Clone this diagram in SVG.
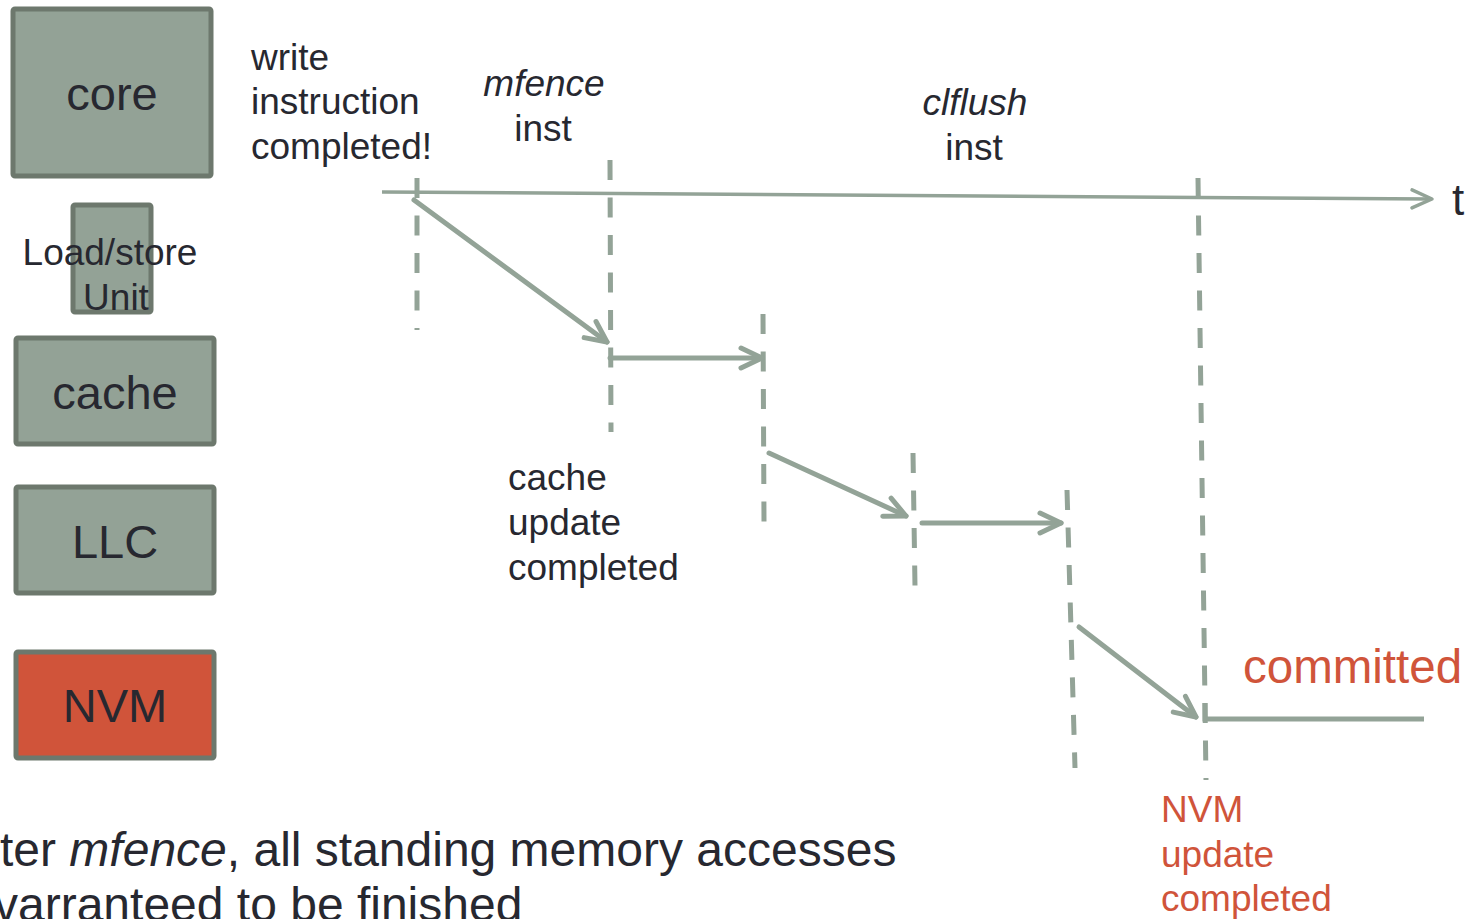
<svg xmlns="http://www.w3.org/2000/svg" width="1469" height="919" viewBox="0 0 1469 919">
  <style>
    .box { fill: #93a296; stroke: #6d786d; stroke-width: 5; }
    .nvm { fill: #d0543a; stroke: #6d786d; stroke-width: 5; }
    .lbl { font-family: "Liberation Sans", Arial, sans-serif; fill: #272830; }
    .big { font-size: 47px; text-anchor: middle; }
    .txt { font-size: 37px; }
    .red { fill: #d0543a; }
    .it { font-style: italic; }
    .guide { stroke: #93a397; stroke-width: 5; fill: none; stroke-dasharray: 20 17.5; }
    .flow { stroke: #93a397; stroke-width: 5; fill: none; stroke-linecap: round; }
    .axis { stroke: #93a397; stroke-width: 3.5; fill: none; }
  </style>
  <defs>
    <marker id="head" markerUnits="userSpaceOnUse" markerWidth="40" markerHeight="40" refX="0" refY="0" viewBox="-30 -20 40 40" orient="auto" overflow="visible">
      <path d="M-21,-10 L0,0 L-21,10" fill="none" stroke="#93a397" stroke-width="5" stroke-linecap="round" stroke-linejoin="round"/>
    </marker>
    <marker id="headThin" markerUnits="userSpaceOnUse" markerWidth="40" markerHeight="40" refX="0" refY="0" viewBox="-30 -20 40 40" orient="auto" overflow="visible">
      <path d="M-20,-9 L0,0 L-20,9" fill="none" stroke="#93a397" stroke-width="3.5" stroke-linecap="round" stroke-linejoin="round"/>
    </marker>
  </defs>

  <rect width="1469" height="919" fill="#ffffff"/>

  <!-- memory hierarchy -->
  <g id="core">
    <rect class="box" x="13" y="9" width="198" height="167" rx="2"/>
    <text class="lbl big" x="112" y="110">core</text>
  </g>
  <g id="load-store-unit">
    <rect class="box" x="73" y="205" width="78" height="107" rx="2"/>
    <text class="lbl txt" x="110" y="265" text-anchor="middle">Load/store</text>
    <text class="lbl txt" x="116" y="310" text-anchor="middle">Unit</text>
  </g>
  <g id="cache">
    <rect class="box" x="16" y="338" width="198" height="106" rx="2"/>
    <text class="lbl big" x="115" y="409">cache</text>
  </g>
  <g id="llc">
    <rect class="box" x="16" y="487" width="198" height="106" rx="2"/>
    <text class="lbl big" x="115" y="558">LLC</text>
  </g>
  <g id="nvm">
    <rect class="nvm" x="16" y="652" width="198" height="106" rx="2"/>
    <text class="lbl big" x="115" y="722">NVM</text>
  </g>

  <!-- time axis and event guides -->
  <g id="connectors">
    <line class="axis" x1="382" y1="192" x2="1432" y2="199" marker-end="url(#headThin)"/>

    <line class="guide" x1="417" y1="178" x2="417" y2="330"/>
    <line class="guide" x1="610" y1="160" x2="611" y2="432"/>
    <line class="guide" x1="763" y1="314" x2="764" y2="522"/>
    <line class="guide" x1="913" y1="453" x2="915" y2="587"/>
    <line class="guide" x1="1067" y1="490" x2="1075" y2="768"/>
    <line class="guide" x1="1198" y1="178" x2="1206" y2="780"/>

    <line class="flow" x1="414" y1="200" x2="607" y2="342" marker-end="url(#head)"/>
    <line class="flow" x1="610" y1="358" x2="762" y2="358" marker-end="url(#head)"/>
    <line class="flow" x1="769" y1="453" x2="906" y2="516" marker-end="url(#head)"/>
    <line class="flow" x1="922" y1="523" x2="1061" y2="523" marker-end="url(#head)"/>
    <line class="flow" x1="1079" y1="627" x2="1196" y2="717" marker-end="url(#head)"/>
    <path d="M1205,703 L1205,719 L1424,719" stroke="#93a397" stroke-width="5" fill="none"/>
  </g>

  <!-- annotations -->
  <g id="write-label" class="lbl txt">
    <text x="251" y="70">write</text>
    <text x="251" y="114">instruction</text>
    <text x="251" y="159">completed!</text>
  </g>
  <g id="mfence-label" class="lbl txt" text-anchor="middle">
    <text class="it" x="544" y="96">mfence</text>
    <text x="543" y="141">inst</text>
  </g>
  <g id="clflush-label" class="lbl txt" text-anchor="middle">
    <text class="it" x="975" y="115">clflush</text>
    <text x="974" y="160">inst</text>
  </g>
  <g id="cache-update-label" class="lbl txt">
    <text x="508" y="490">cache</text>
    <text x="508" y="535">update</text>
    <text x="508" y="580">completed</text>
  </g>
  <g id="nvm-update-label" class="lbl txt red">
    <text x="1161" y="822">NVM</text>
    <text x="1161" y="867">update</text>
    <text x="1161" y="911">completed</text>
  </g>
  <text id="committed" class="lbl red" x="1243" y="683" font-size="47.5">committed</text>
  <text id="t-axis" class="lbl" x="1452" y="215" font-size="44">t</text>

  <g id="note" class="lbl" font-size="48">
    <text x="0" y="866">ter <tspan class="it">mfence</tspan>, all standing memory accesses</text>
    <text x="-6" y="921">varranteed to be finished</text>
  </g>
</svg>
